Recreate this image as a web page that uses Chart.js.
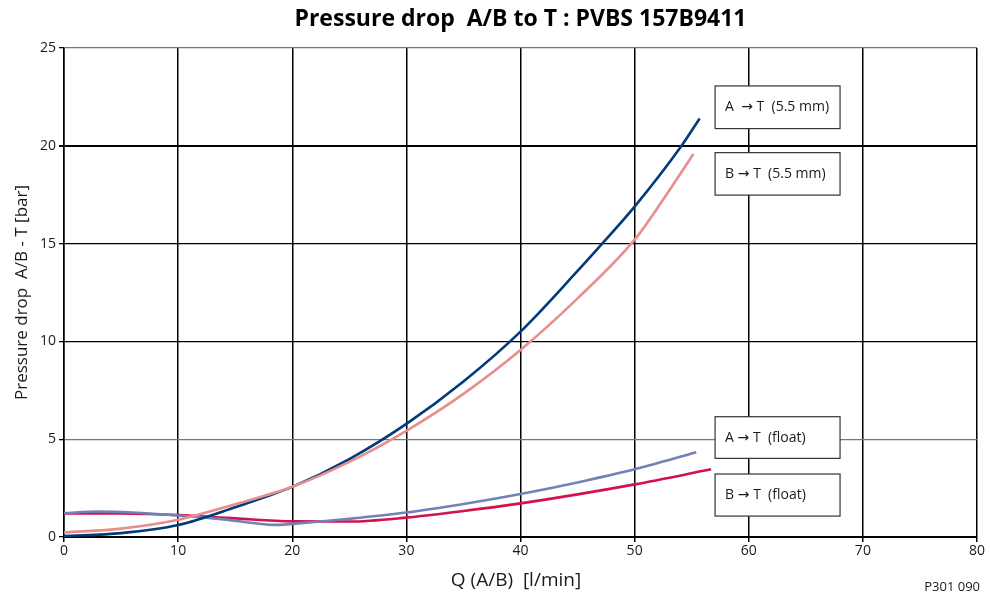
<!DOCTYPE html>
<html>
<head>
<meta charset="utf-8">
<script src="https://cdn.jsdelivr.net/npm/chart.js@4.4.1/dist/chart.umd.min.js"></script>
<style>
  html, body { margin: 0; padding: 0; background: #fff; }
  #wrap { width: 990px; height: 598px; }
</style>
</head>
<body>
<div id="wrap"><canvas id="chart"></canvas></div>
<script>
// A -> T (5.5 mm)
const qAT55  = [0, 5, 10, 15, 20, 25, 30, 35, 40, 45, 47.1, 50, 54.05, 55.7];
const dpAT55 = [0.05, 0.2, 0.61, 1.52, 2.56, 3.98, 5.78, 7.95, 10.5, 13.6, 14.96, 16.89, 19.95, 21.4];
// B -> T (5.5 mm)
const qBT55  = [0, 5, 10, 15, 20, 25, 30, 35, 40, 45, 50, 52.5, 55.15];
const dpBT55 = [0.23, 0.43, 0.88, 1.68, 2.57, 3.84, 5.43, 7.32, 9.56, 12.2, 15.2, 17.25, 19.58];
// A -> T (float)
const qATfl  = [0, 3, 6, 10, 14, 18.5, 21, 25, 30, 35, 40, 45, 50, 55.4];
const dpATfl = [1.22, 1.3, 1.25, 1.1, 0.9, 0.62, 0.72, 0.93, 1.25, 1.69, 2.2, 2.79, 3.46, 4.33];
// B -> T (float)
const qBTfl  = [0, 5, 10, 15, 20, 25, 30, 35, 40, 45, 50, 56.7];
const dpBTfl = [1.21, 1.2, 1.12, 0.95, 0.8, 0.79, 0.99, 1.33, 1.72, 2.18, 2.69, 3.46];

const xTicks = [0, 10, 20, 30, 40, 50, 60, 70, 80];
const yTicks = [0, 5, 10, 15, 20, 25];

const pts = (xs, ys) => xs.map((x, i) => ({ x: x, y: ys[i] }));

// label boxes, anchored in data units
const labelBoxes = [
    { text: 'A  \u2192 T  (5.5 mm)', x0: 57.05, x1: 68.0, y0: 20.88, y1: 23.06 },
    { text: 'B \u2192 T  (5.5 mm)',  x0: 57.05, x1: 68.0, y0: 17.48, y1: 19.65 },
    { text: 'A \u2192 T  (float)',   x0: 57.05, x1: 68.0, y0: 4.02,  y1: 6.15 },
    { text: 'B \u2192 T  (float)',   x0: 57.05, x1: 68.0, y0: 1.07,  y1: 3.22 }
];

const FONT = '"Open Sans", "Noto Sans", "DejaVu Sans", sans-serif';

const decorPlugin = {
    id: 'decor',
    afterDatasetsDraw(chart) {
        const ctx = chart.ctx;
        const xs = chart.scales.x, ys = chart.scales.y;
        ctx.save();
        labelBoxes.forEach(b => {
            const l = xs.getPixelForValue(b.x0), r = xs.getPixelForValue(b.x1);
            const t = ys.getPixelForValue(b.y1), bt = ys.getPixelForValue(b.y0);
            ctx.fillStyle = '#fff';
            ctx.fillRect(l, t, r - l, bt - t);
            ctx.strokeStyle = '#333';
            ctx.lineWidth = 1.2;
            ctx.strokeRect(l, t, r - l, bt - t);
            ctx.fillStyle = '#1a1a1a';
            ctx.font = '14px ' + FONT;
            ctx.textAlign = 'left';
            ctx.textBaseline = 'middle';
            ctx.fillText(b.text, l + 10, (t + bt) / 2);
        });

        ctx.font = '19px ' + FONT;
        ctx.fillStyle = '#1a1a1a';
        ctx.textAlign = 'center';
        ctx.textBaseline = 'middle';
        ctx.fillText('Q (A/B)  [l/min]', 516, 581);

        ctx.font = '13px ' + FONT;
        ctx.textAlign = 'right';
        ctx.fillText('P301 090', 980, 587);
        ctx.restore();
    }
};

const line = (label, data, color, order) => ({
    label: label,
    data: data,
    borderColor: color,
    backgroundColor: color,
    borderWidth: 2.6,
    pointRadius: 0,
    fill: false,
    cubicInterpolationMode: 'monotone',
    order: order
});

new Chart(document.getElementById('chart'), {
    type: 'line',
    data: {
        datasets: [
            line('A \u2192 T (5.5 mm)', pts(qAT55, dpAT55), '#003b7a', 2),
            line('B \u2192 T (5.5 mm)', pts(qBT55, dpBT55), '#e88e8c', 1),
            line('B \u2192 T (float)', pts(qBTfl, dpBTfl), '#d2124f', 4),
            line('A \u2192 T (float)', pts(qATfl, dpATfl), '#7282b8', 3)
        ]
    },
    options: {
        responsive: true,
        maintainAspectRatio: false,
        animation: false,
        layout: { padding: { left: 0, right: 13, top: 0, bottom: 0 } },
        plugins: {
            legend: { display: false },
            tooltip: { enabled: false },
            title: {
                display: true,
                fullSize: false,
                text: 'Pressure drop  A/B to T : PVBS 157B9411',
                color: '#000',
                font: { family: FONT, size: 23, weight: 'bold' },
                padding: { top: 6, bottom: 14.4 }
            }
        },
        scales: {
            x: {
                type: 'linear',
                min: 0,
                max: 80,
                afterFit: s => { s.height = 61; },
                afterBuildTicks: s => { s.ticks = xTicks.map(v => ({ value: v })); },
                ticks: { color: '#1a1a1a', font: { family: FONT, size: 14 }, padding: 1 },
                grid: { color: '#000', lineWidth: 1.5, tickLength: 5, tickColor: '#000' },
                border: { color: '#000', width: 2 }
            },
            y: {
                min: 0,
                max: 25,
                afterFit: s => { s.width = 64; },
                afterBuildTicks: s => { s.ticks = yTicks.map(v => ({ value: v })); },
                ticks: { color: '#1a1a1a', font: { family: FONT, size: 14 }, padding: 3 },
                grid: {
                    color: c => (c.tick.value === 5 || c.tick.value === 25) ? '#777' : '#000',
                    lineWidth: c => c.tick.value === 20 ? 2 : 1.3,
                    tickLength: 5,
                    tickColor: '#000'
                },
                border: { color: '#000', width: 1.5 },
                title: {
                    display: true,
                    text: 'Pressure drop  A/B - T [bar]',
                    color: '#1a1a1a',
                    font: { family: FONT, size: 17 },
                    padding: { top: 12, bottom: 0 }
                }
            }
        }
    },
    plugins: [decorPlugin]
});
</script>
</body>
</html>
